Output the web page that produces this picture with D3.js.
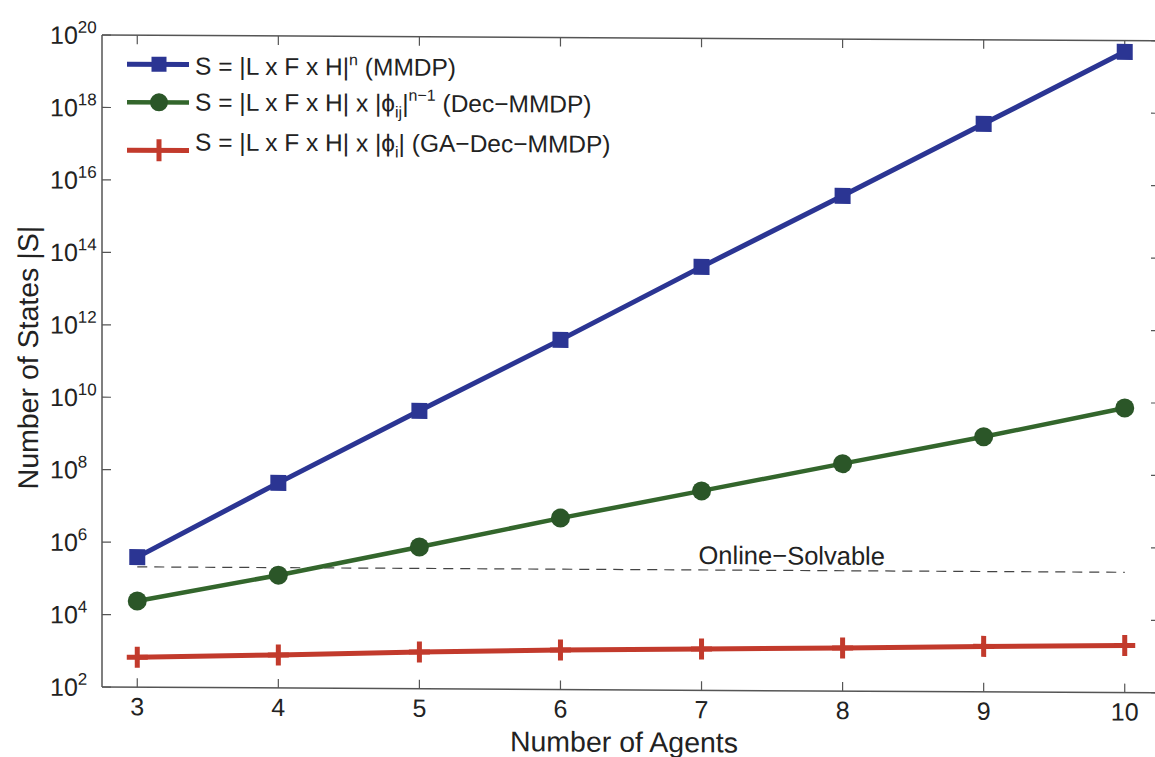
<!DOCTYPE html>
<html><head><meta charset="utf-8">
<script src="https://cdn.jsdelivr.net/npm/d3@7"></script>
<style>
body{margin:0;background:#fff}
svg{display:block}
text{font-family:"Liberation Sans",Arial,Helvetica,sans-serif;fill:#222}
</style>
</head><body>
<svg id="c" width="1155" height="757"></svg>
<script>
// ---- data ----
const agents = [3, 4, 5, 6, 7, 8, 9, 10];
const mmdp = [3.9e5, 4.6e7, 4.7e9, 4.5e11, 4.9e13, 4.7e15, 4.8e17, 4.9e19];
const decMmdp = [2.4e4, 1.3e5, 8.2e5, 5.4e6, 3.2e7, 1.9e8, 1.1e9, 7.2e9];
const gaDecMmdp = [670, 815, 1030, 1230, 1380, 1550, 1800, 2000];
const onlineSolvable = 2.1e5;
const xTicks = [3, 4, 5, 6, 7, 8, 9, 10];
const yTickExponents = [2, 4, 6, 8, 10, 12, 14, 16, 18, 20];
const xLabel = "Number of Agents";
const yLabel = "Number of States |S|";
const thresholdLabel = "Online\u2212Solvable";

const colors = {mmdp: "#2b3593", dec: "#33662c", decMarker: "#2b5628", ga: "#c23a2c"};

// ---- layout ----
const L = 102, R = 1160, T = 35, B = 687;
const x = d3.scaleLinear().domain([2.75, 10.25]).range([L, R]);
const y = d3.scaleLog().domain([1e2, 1e20]).range([B, T]);

const svg = d3.select("#c");
// slight skew like the scanned original
const g = svg.append("g").attr("transform", "matrix(1,0.0055,0,1,0,-0.56)");

// axes box
const axisColor = "#555";
g.append("line").attr("x1", L).attr("x2", R).attr("y1", B).attr("y2", B).attr("stroke", axisColor).attr("stroke-width", 1.5);
g.append("line").attr("x1", L).attr("x2", R).attr("y1", T).attr("y2", T).attr("stroke", axisColor).attr("stroke-width", 1.5);
g.append("line").attr("x1", L).attr("x2", L).attr("y1", T).attr("y2", B).attr("stroke", axisColor).attr("stroke-width", 1.5);
g.append("line").attr("x1", R).attr("x2", R).attr("y1", T).attr("y2", B).attr("stroke", axisColor).attr("stroke-width", 1.5);

const tl = 9;
// x ticks (bottom & top, inward)
xTicks.forEach(t => {
  g.append("line").attr("x1", x(t)).attr("x2", x(t)).attr("y1", B).attr("y2", B - tl).attr("stroke", axisColor).attr("stroke-width", 1.2);
  g.append("line").attr("x1", x(t)).attr("x2", x(t)).attr("y1", T).attr("y2", T + tl).attr("stroke", axisColor).attr("stroke-width", 1.2);
  g.append("text").attr("x", x(t)).attr("y", B + 28).attr("text-anchor", "middle").attr("font-size", 25).text(t);
});
// y ticks (left & right, inward)
yTickExponents.forEach(e => {
  const yy = y(Math.pow(10, e));
  g.append("line").attr("x1", L).attr("x2", L + tl).attr("y1", yy).attr("y2", yy).attr("stroke", axisColor).attr("stroke-width", 1.2);
  g.append("line").attr("x1", R).attr("x2", R - tl).attr("y1", yy).attr("y2", yy).attr("stroke", axisColor).attr("stroke-width", 1.2);
  const tx = g.append("text").attr("x", L - 52).attr("y", yy + 9).attr("font-size", 25);
  tx.append("tspan").text("10");
  tx.append("tspan").attr("font-size", 17).attr("dy", -11).text(e);
});

// axis titles
g.append("text").attr("x", 624).attr("y", 749).attr("text-anchor", "middle").attr("font-size", 28.5).text(xLabel);
g.append("text").attr("transform", "translate(38,358) rotate(-90)").attr("text-anchor", "middle").attr("font-size", 28.5).text(yLabel);

// threshold dashed line
g.append("line").attr("x1", x(agents[0])).attr("x2", x(agents[agents.length - 1]))
  .attr("y1", y(onlineSolvable)).attr("y2", y(onlineSolvable))
  .attr("stroke", "#444").attr("stroke-width", 1.2).attr("stroke-dasharray", "10,7");
g.append("text").attr("x", x(7) - 3).attr("y", y(onlineSolvable) - 6).attr("font-size", 25.5).text(thresholdLabel);

const line = d3.line().x(d => x(d[0])).y(d => y(d[1]));
function series(vals, color, w) {
  g.append("path").datum(agents.map((a, i) => [a, vals[i]])).attr("d", line)
    .attr("fill", "none").attr("stroke", color).attr("stroke-width", w).attr("stroke-linejoin", "round");
}
series(gaDecMmdp, colors.ga, 5);
series(decMmdp, colors.dec, 4.5);
series(mmdp, colors.mmdp, 5);

// markers
const sq = 16;
g.selectAll(".sq").data(agents).enter().append("rect")
  .attr("x", (d) => x(d) - sq / 2).attr("y", (d, i) => y(mmdp[i]) - sq / 2)
  .attr("width", sq).attr("height", sq).attr("fill", colors.mmdp);
g.selectAll(".ci").data(agents).enter().append("circle")
  .attr("cx", d => x(d)).attr("cy", (d, i) => y(decMmdp[i])).attr("r", 9.5)
  .attr("fill", colors.decMarker);
const ph = 10.5;
agents.forEach((a, i) => {
  const cx = x(a), cy = y(gaDecMmdp[i]);
  g.append("path").attr("d", `M${cx - ph},${cy}H${cx + ph}M${cx},${cy - ph}V${cy + ph}`)
    .attr("stroke", colors.ga).attr("stroke-width", 5).attr("fill", "none");
});

// legend
const lx1 = 127, lx2 = 189, lmid = 159, tx0 = 195;
const rows = [64, 102, 150];
const lf = 24.5, sf = 16;
// MMDP
g.append("line").attr("x1", lx1).attr("x2", lx2).attr("y1", rows[0]).attr("y2", rows[0]).attr("stroke", colors.mmdp).attr("stroke-width", 5);
g.append("rect").attr("x", lmid - 7.5).attr("y", rows[0] - 7.5).attr("width", 15).attr("height", 15).attr("fill", colors.mmdp);
let t1 = g.append("text").attr("x", tx0).attr("y", rows[0] + 10).attr("font-size", lf);
t1.append("tspan").text("S = |L x F x H|");
t1.append("tspan").attr("font-size", sf).attr("dy", -10).text("n");
t1.append("tspan").attr("dy", 10).text(" (MMDP)");
// Dec-MMDP
g.append("line").attr("x1", lx1).attr("x2", lx2).attr("y1", rows[1]).attr("y2", rows[1]).attr("stroke", colors.dec).attr("stroke-width", 4.5);
g.append("circle").attr("cx", lmid).attr("cy", rows[1]).attr("r", 9).attr("fill", colors.decMarker);
let t2 = g.append("text").attr("x", tx0).attr("y", rows[1] + 8).attr("font-size", lf);
t2.append("tspan").text("S = |L x F x H| x |\u03D5");
t2.append("tspan").attr("font-size", sf).attr("dy", 6).text("ij");
t2.append("tspan").attr("dy", -6).text("|");
t2.append("tspan").attr("font-size", sf).attr("dy", -11).text("n\u22121");
t2.append("tspan").attr("dy", 11).text(" (Dec\u2212MMDP)");
// GA-Dec-MMDP
g.append("line").attr("x1", lx1).attr("x2", lx2).attr("y1", rows[2]).attr("y2", rows[2]).attr("stroke", colors.ga).attr("stroke-width", 5);
g.append("path").attr("d", `M${lmid},${rows[2] - 11}V${rows[2] + 11}`).attr("stroke", colors.ga).attr("stroke-width", 5);
let t3 = g.append("text").attr("x", tx0).attr("y", rows[2]).attr("font-size", lf);
t3.append("tspan").text("S = |L x F x H| x |\u03D5");
t3.append("tspan").attr("font-size", sf).attr("dy", 6).text("i");
t3.append("tspan").attr("dy", -6).text("| (GA\u2212Dec\u2212MMDP)");
</script>
</body></html>
